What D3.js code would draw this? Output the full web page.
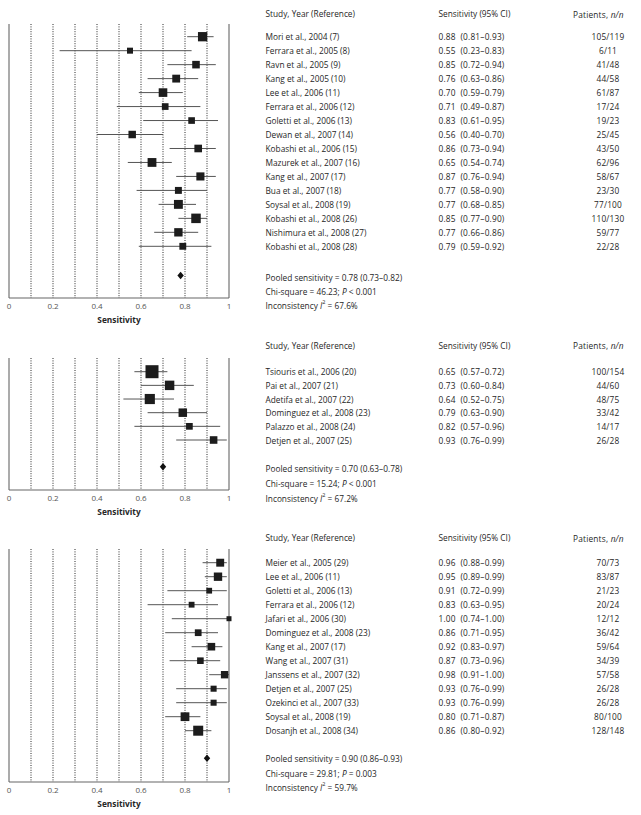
<!DOCTYPE html>
<html><head><meta charset="utf-8">
<script src="https://cdn.jsdelivr.net/npm/d3@7"></script>
<style>
html,body{margin:0;padding:0;background:#fff;}
svg{display:block;font-family:"Open Sans","DejaVu Sans",sans-serif;}
</style></head>
<body><svg id="c" width="641" height="815"></svg>
<script>
// ---------- DATA ----------
const studies1 = ["Mori et al., 2004 (7)","Ferrara et al., 2005 (8)","Ravn et al., 2005 (9)","Kang et al., 2005 (10)","Lee et al., 2006 (11)","Ferrara et al., 2006 (12)","Goletti et al., 2006 (13)","Dewan et al., 2007 (14)","Kobashi et al., 2006 (15)","Mazurek et al., 2007 (16)","Kang et al., 2007 (17)","Bua et al., 2007 (18)","Soysal et al., 2008 (19)","Kobashi et al., 2008 (26)","Nishimura et al., 2008 (27)","Kobashi et al., 2008 (28)"];
const sens1  = [0.88,0.55,0.85,0.76,0.70,0.71,0.83,0.56,0.86,0.65,0.87,0.77,0.77,0.85,0.77,0.79];
const lower1 = [0.81,0.23,0.72,0.63,0.59,0.49,0.61,0.40,0.73,0.54,0.76,0.58,0.68,0.77,0.66,0.59];
const upper1 = [0.93,0.83,0.94,0.86,0.79,0.87,0.95,0.70,0.94,0.74,0.94,0.90,0.85,0.90,0.86,0.92];
const events1 = [105,6,41,44,61,17,19,25,43,62,58,23,77,110,59,22];
const totals1 = [119,11,48,58,87,24,23,45,50,96,67,30,100,130,77,28];
const pooled1 = [0.78,0.73,0.82];
const chi1 = ["46.23","<","0.001"];
const incons1 = "67.6";

const studies2 = ["Tsiouris et al., 2006 (20)","Pai et al., 2007 (21)","Adetifa et al., 2007 (22)","Dominguez et al., 2008 (23)","Palazzo et al., 2008 (24)","Detjen et al., 2007 (25)"];
const sens2  = [0.65,0.73,0.64,0.79,0.82,0.93];
const lower2 = [0.57,0.60,0.52,0.63,0.57,0.76];
const upper2 = [0.72,0.84,0.75,0.90,0.96,0.99];
const events2 = [100,44,48,33,14,26];
const totals2 = [154,60,75,42,17,28];
const pooled2 = [0.70,0.63,0.78];
const chi2 = ["15.24","<","0.001"];
const incons2 = "67.2";

const studies3 = ["Meier et al., 2005 (29)","Lee et al., 2006 (11)","Goletti et al., 2006 (13)","Ferrara et al., 2006 (12)","Jafari et al., 2006 (30)","Dominguez et al., 2008 (23)","Kang et al., 2007 (17)","Wang et al., 2007 (31)","Janssens et al., 2007 (32)","Detjen et al., 2007 (25)","Ozekinci et al., 2007 (33)","Soysal et al., 2008 (19)","Dosanjh et al., 2008 (34)"];
const sens3  = [0.96,0.95,0.91,0.83,1.00,0.86,0.92,0.87,0.98,0.93,0.93,0.80,0.86];
const lower3 = [0.88,0.89,0.72,0.63,0.74,0.71,0.83,0.73,0.91,0.76,0.76,0.71,0.80];
const upper3 = [0.99,0.99,0.99,0.95,1.00,0.95,0.97,0.96,1.00,0.99,0.99,0.87,0.92];
const events3 = [70,83,21,20,12,36,59,34,57,26,26,80,128];
const totals3 = [73,87,23,24,12,42,64,39,58,28,28,100,148];
const pooled3 = [0.90,0.86,0.93];
const chi3 = ["29.81","=","0.003"];
const incons3 = "59.7";

const tickValues = [0,0.2,0.4,0.6,0.8,1];
const gridValues = [0.1,0.2,0.3,0.4,0.5,0.6,0.7,0.8,0.9];
const headers = ["Study, Year (Reference)","Sensitivity (95% CI)","Patients, "];
const axisTitle = "Sensitivity";

// ---------- LAYOUT ----------
const panels = [
  {studies:studies1,sens:sens1,lo:lower1,hi:upper1,ev:events1,tot:totals1,pooled:pooled1,chi:chi1,inc:incons1,
   top:24,header:13.5,first:36.7,last:246.3,diamond:275.5,bottom:298,stat:[277,291,305],sizes:[6,9.5]},
  {studies:studies2,sens:sens2,lo:lower2,hi:upper2,ev:events2,tot:totals2,pooled:pooled2,chi:chi2,inc:incons2,
   top:358,header:345,first:371.7,last:440,diamond:466.7,bottom:490,stat:[468.5,483,497.5],sizes:[6.7,13]},
  {studies:studies3,sens:sens3,lo:lower3,hi:upper3,ev:events3,tot:totals3,pooled:pooled3,chi:chi3,inc:incons3,
   top:549,header:537.5,first:562.7,last:730.7,diamond:758.3,bottom:782,stat:[758.5,772.5,787],sizes:[5,10]}
];

const svg = d3.select("#c");
const x = d3.scaleLinear().domain([0,1]).range([9,229]);
const colStudy = 265.5, colSens = 438.5, colPat = 608, colPatHead = 573;
const fs = 8.3;
const numSpacing = 0.2;
const textCol = "#262626";

panels.forEach(p => {
  const g = svg.append("g");
  const n = p.studies.length;
  const y = d3.scaleLinear().domain([0,n-1]).range([p.first,p.last]);
  const sz = d3.scaleSqrt().domain(d3.extent(p.tot)).range(p.sizes);

  // grid
  g.selectAll("line.grid").data(gridValues).join("line")
    .attr("x1",d=>x(d)).attr("x2",d=>x(d)).attr("y1",p.top).attr("y2",p.bottom)
    .attr("stroke","#111").attr("stroke-width",0.9).attr("stroke-dasharray","1,1.4");
  // borders
  g.selectAll("line.border").data([0,1]).join("line")
    .attr("x1",d=>x(d)).attr("x2",d=>x(d)).attr("y1",p.top).attr("y2",p.bottom)
    .attr("stroke","#666").attr("stroke-width",1.1);
  g.append("line").attr("x1",x(0)).attr("x2",x(1)).attr("y1",p.bottom).attr("y2",p.bottom)
    .attr("stroke","#666").attr("stroke-width",1.1);

  // axis labels
  g.selectAll("text.tick").data(tickValues).join("text")
    .attr("x",d=>x(d)).attr("y",p.bottom+7).attr("dominant-baseline","central")
    .attr("text-anchor","middle").attr("font-size",8).attr("fill","#555")
    .text(d=>d3.format("~g")(d));
  g.append("text").attr("x",(x(0)+x(1))/2).attr("y",p.bottom+21.5).attr("dominant-baseline","central")
    .attr("text-anchor","middle").attr("font-size",8.3).attr("font-weight","bold").attr("fill",textCol)
    .text(axisTitle);

  // CI lines
  const idx = d3.range(n);
  g.selectAll("line.ci").data(idx).join("line")
    .attr("x1",i=>x(p.lo[i])).attr("x2",i=>x(p.hi[i])).attr("y1",i=>y(i)).attr("y2",i=>y(i))
    .attr("stroke","#555").attr("stroke-width",1);
  // squares
  g.selectAll("rect.pt").data(idx).join("rect")
    .attr("x",i=>x(p.sens[i])-sz(p.tot[i])/2).attr("y",i=>y(i)-sz(p.tot[i])/2)
    .attr("width",i=>sz(p.tot[i])).attr("height",i=>sz(p.tot[i]))
    .attr("fill","#1c1c1c");
  // diamond
  const dx = x(p.pooled[0]), dy = p.diamond;
  g.append("path").attr("d",`M${dx},${dy-3.8}L${dx+3.2},${dy}L${dx},${dy+3.8}L${dx-3.2},${dy}Z`).attr("fill","#111");

  // headers
  const hy = p.header;
  g.append("text").attr("x",colStudy).attr("y",hy).attr("dominant-baseline","central")
    .attr("font-size",fs).attr("fill",textCol).text(headers[0]);
  g.append("text").attr("x",colSens).attr("y",hy).attr("dominant-baseline","central")
    .attr("font-size",fs).attr("fill",textCol).text(headers[1]);
  const ph = g.append("text").attr("x",colPatHead).attr("y",hy).attr("dominant-baseline","central")
    .attr("font-size",fs).attr("fill",textCol).attr("letter-spacing",numSpacing);
  ph.append("tspan").text(headers[2]);
  ph.append("tspan").attr("font-style","italic").text("n/n");

  // rows
  const f2 = d3.format(".2f");
  g.selectAll("text.st").data(idx).join("text")
    .attr("x",colStudy).attr("y",i=>y(i)).attr("dominant-baseline","central")
    .attr("font-size",fs).attr("fill",textCol).text(i=>p.studies[i]);
  g.selectAll("text.se").data(idx).join("text")
    .attr("x",colSens).attr("y",i=>y(i)).attr("dominant-baseline","central")
    .attr("font-size",fs).attr("fill",textCol).attr("letter-spacing",numSpacing)
    .text(i=>`${f2(p.sens[i])}\u00a0\u00a0(${f2(p.lo[i])}\u2013${f2(p.hi[i])})`);
  g.selectAll("text.pa").data(idx).join("text")
    .attr("x",colPat).attr("y",i=>y(i)).attr("dominant-baseline","central").attr("text-anchor","middle")
    .attr("font-size",fs).attr("fill",textCol).attr("letter-spacing",numSpacing)
    .text(i=>`${p.ev[i]}/${p.tot[i]}`);

  // stats
  g.append("text").attr("x",colStudy).attr("y",p.stat[0]).attr("dominant-baseline","central")
    .attr("font-size",fs).attr("fill",textCol)
    .text(`Pooled sensitivity = ${f2(p.pooled[0])} (${f2(p.pooled[1])}\u2013${f2(p.pooled[2])})`);
  const c = g.append("text").attr("x",colStudy).attr("y",p.stat[1]).attr("dominant-baseline","central")
    .attr("font-size",fs).attr("fill",textCol);
  c.append("tspan").text(`Chi-square = ${p.chi[0]}; `);
  c.append("tspan").attr("font-style","italic").text("P");
  c.append("tspan").text(` ${p.chi[1]} ${p.chi[2]}`);
  const t = g.append("text").attr("x",colStudy).attr("y",p.stat[2]).attr("dominant-baseline","central")
    .attr("font-size",fs).attr("fill",textCol);
  t.append("tspan").text("Inconsistency ");
  t.append("tspan").attr("font-style","italic").text("I");
  t.append("tspan").attr("font-size",5.6).attr("dy",-3).text("2");
  t.append("tspan").attr("dy",3).text(` = ${p.inc}%`);
});
</script></body></html>
